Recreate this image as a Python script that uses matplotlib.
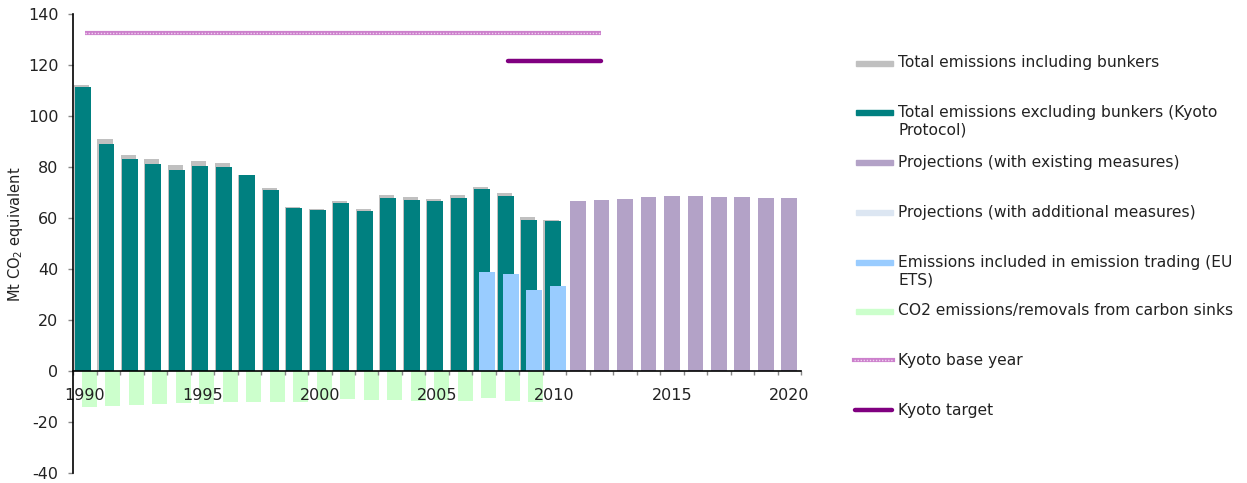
import matplotlib
matplotlib.use("Agg")
import matplotlib.pyplot as plt
import numpy as np
from matplotlib.patches import Rectangle
from matplotlib.lines import Line2D

years = list(range(1990, 2021))
hist_years = list(range(1990, 2011))
incl_bunkers = [112.2, 91.0, 85.0, 83.4, 80.8, 82.6, 81.7, 77.1, 71.8, 64.3, 63.5,
                66.8, 63.5, 69.0, 68.2, 67.7, 69.0, 72.3, 69.8, 60.5, 59.2]
excl_bunkers = [111.3, 89.3, 83.1, 81.2, 79.1, 80.5, 80.1, 76.9, 71.2, 64.1, 63.3,
                66.1, 62.9, 68.0, 67.3, 66.9, 68.0, 71.5, 68.8, 59.2, 58.8]
proj_years = list(range(2011, 2021))
proj_wem = [66.8, 67.3, 67.7, 68.3, 68.7, 68.6, 68.4, 68.2, 68.0, 67.8]
ets_years = [2007, 2008, 2009, 2010]
ets = [38.9, 38.2, 31.9, 33.5]
sink_years = list(range(1990, 2010))
sinks = [-13.9, -13.6, -13.3, -12.7, -12.4, -12.8, -11.9, -12.0, -12.0, -12.0,
         -11.1, -10.7, -11.1, -11.1, -11.5, -11.1, -11.5, -10.3, -11.6, -11.9]
kyoto_base = 132.7
kyoto_base_years = [1990, 2012]
kyoto_target = 121.8
kyoto_target_years = [2008, 2012]
tick_years = [1990, 1995, 2000, 2005, 2010, 2015, 2020]
yticks = [-40, -20, 0, 20, 40, 60, 80, 100, 120, 140]

legend_labels = ["Total emissions including bunkers",
                 "Total emissions excluding bunkers (Kyoto\nProtocol)",
                 "Projections (with existing measures)",
                 "Projections (with additional measures)",
                 "Emissions included in emission trading (EU\nETS)",
                 "CO2 emissions/removals from carbon sinks",
                 "Kyoto base year",
                 "Kyoto target"]

C_GREY = "#c0c0c0"
C_TEAL = "#008080"
C_PROJ = "#b3a2c7"
C_PROJ2 = "#dce6f2"
C_ETS = "#99ccff"
C_SINK = "#ccffcc"
C_BASE = "#cc80cc"
C_BASE2 = "#f0d0f0"
C_TARGET = "#800080"

W, H = 1247, 483
fig = plt.figure(figsize=(W / 100, H / 100), dpi=100)
ax = fig.add_axes([73.3 / W, 1 - 473.3 / H, (801 - 73.3) / W, (473.3 - 14.3) / H])

def idx(ys):
    return np.array(ys) - 1990

ax.bar(idx(sink_years) + 0.19, sinks, width=0.64, color=C_SINK, zorder=1)
ax.bar(idx(hist_years) - 0.15, incl_bunkers, width=0.64, color=C_GREY, zorder=2)
ax.bar(idx(hist_years) - 0.085, excl_bunkers, width=0.68, color=C_TEAL, zorder=3)
ax.bar(idx(ets_years) + 0.13, ets, width=0.68, color=C_ETS, zorder=4)
ax.bar(idx(proj_years), proj_wem, width=0.67, color=C_PROJ, zorder=4)

# Kyoto lines
bx = idx(kyoto_base_years)
ax.plot(bx, [kyoto_base] * 2, color=C_BASE, lw=3.0, solid_capstyle="butt", zorder=5)
ax.plot(bx, [kyoto_base] * 2, color=C_BASE2, lw=1.0, dashes=(1, 1.2), zorder=6)
tx = idx(kyoto_target_years)
ax.plot(tx, [kyoto_target] * 2, color=C_TARGET, lw=3.2, solid_capstyle="round", zorder=5)

ax.set_xlim(-0.5, 30.5)
ax.set_ylim(-40, 140)
ax.set_yticks(yticks)
ax.set_yticklabels([str(v) for v in yticks])
ax.set_xticks(idx(tick_years))
ax.set_xticklabels([str(y) for y in tick_years])
ax.set_xticks(np.arange(-0.5, 31, 1.0), minor=True)
ax.tick_params(axis="x", which="major", length=0, pad=12, labelsize=11.5, colors="#222222")
ax.tick_params(axis="x", which="minor", length=3, width=1, color="#888888", direction="out")
ax.tick_params(axis="y", length=3.6, width=1, color="#888888", pad=7, labelsize=11.5,
               labelcolor="#222222")
for s in ["top", "right"]:
    ax.spines[s].set_visible(False)
ax.spines["bottom"].set_position(("data", 0))
ax.spines["bottom"].set_zorder(7)
ax.spines["left"].set_linewidth(1.2)
ax.spines["bottom"].set_linewidth(1.2)
ax.set_ylabel("Mt CO$_2$ equivalent", fontsize=10.5, color="#222222")
ax.yaxis.set_label_coords((25 - 73.3) / (801 - 73.3), 0.52)

# legend drawn manually in figure pixel coords
def fx(px):
    return px / W

def fy(py):
    return 1 - py / H

centers = [63, 112, 162, 212, 262, 311, 360, 410]
patch_colors = [C_GREY, C_TEAL, C_PROJ, C_PROJ2, C_ETS, C_SINK]
for i, (lab, cy) in enumerate(zip(legend_labels, centers)):
    if i < 6:
        fig.patches.append(Rectangle((fx(856), fy(cy + 2.5)), fx(893) - fx(856), 5 / H,
                                     transform=fig.transFigure, color=patch_colors[i]))
    elif i == 6:
        fig.add_artist(Line2D([fx(854), fx(893)], [fy(cy)] * 2, color=C_BASE, lw=3.0,
                              transform=fig.transFigure))
        fig.add_artist(Line2D([fx(854), fx(893)], [fy(cy)] * 2, color=C_BASE2, lw=1.0,
                              dashes=(1, 1.2), transform=fig.transFigure))
    else:
        fig.add_artist(Line2D([fx(855), fx(892)], [fy(cy)] * 2, color=C_TARGET, lw=3.2,
                              solid_capstyle="round", transform=fig.transFigure))
    fig.text(fx(898), fy(cy - 7.5), lab, fontsize=11.2, va="top", ha="left",
             color="#222222", linespacing=1.22)

fig.savefig("out.png", dpi=100)
